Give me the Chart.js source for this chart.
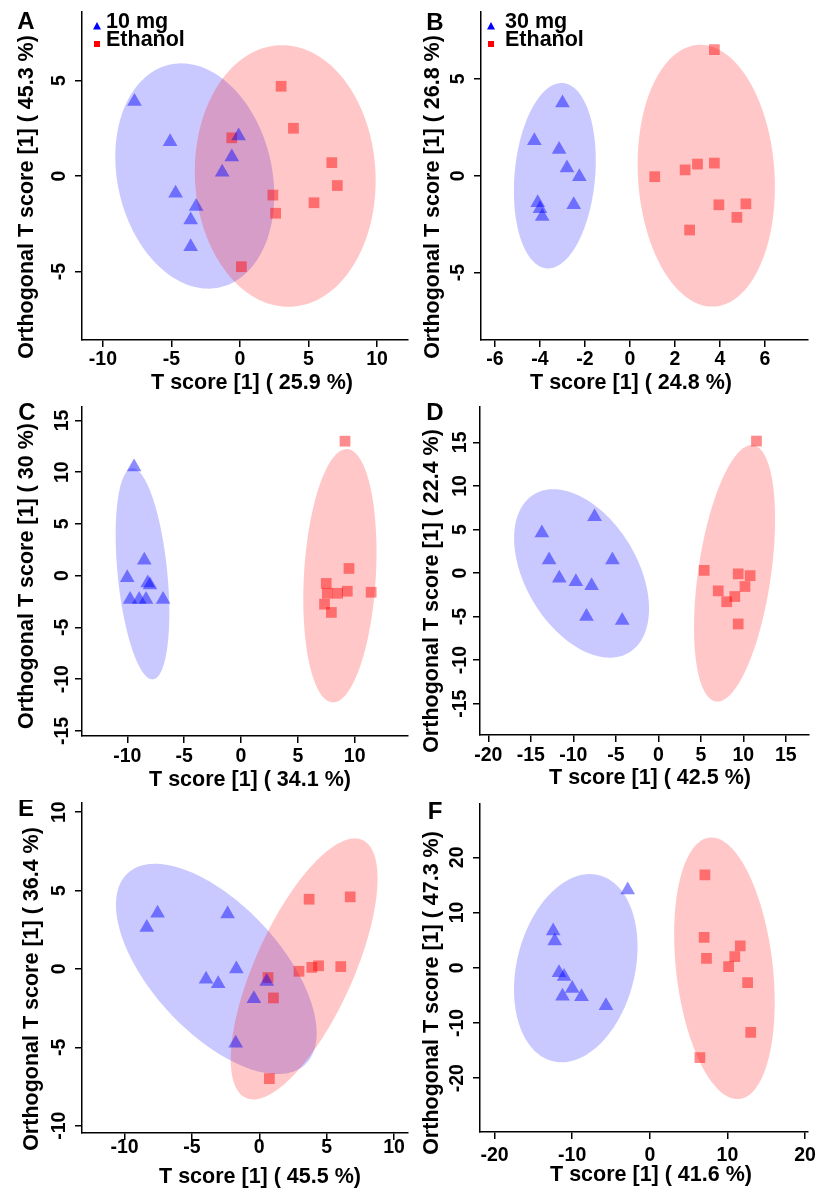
<!DOCTYPE html>
<html>
<head>
<meta charset="utf-8">
<title>OPLS-DA score plots</title>
<script src="https://cdn.jsdelivr.net/npm/chart.js@4.4.1/dist/chart.umd.min.js"></script>
<style>
  html, body { margin: 0; padding: 0; background: #fff; }
  #figure { position: relative; width: 821px; height: 1191px; overflow: hidden; }
  #figure canvas { position: absolute; }
</style>
</head>
<body>
<div id="figure">
  <canvas id="chartA" width="410" height="400" style="left:0px;top:0px"></canvas>
  <canvas id="chartB" width="411" height="400" style="left:410px;top:0px"></canvas>
  <canvas id="chartC" width="410" height="400" style="left:0px;top:400px"></canvas>
  <canvas id="chartD" width="411" height="400" style="left:410px;top:400px"></canvas>
  <canvas id="chartE" width="410" height="391" style="left:0px;top:800px"></canvas>
  <canvas id="chartF" width="411" height="391" style="left:410px;top:800px"></canvas>
</div>
<script>
// ---- data ----
// ellipse = [centre x, centre y, half width x, half height y, tilt phase in degrees]

// A: 10 mg vs ethanol
const aDoseX = [-7.7, -5.1, -4.7, -3.2, -3.6, -3.6, -1.3, -0.6, -0.1];
const aDoseY = [3.9, 1.8, -0.9, -1.6, -2.3, -3.7, 0.2, 1.0, 2.1];
const aEthX = [3.0, 3.9, -0.6, 6.7, 7.1, 5.4, 2.4, 2.6, 0.1];
const aEthY = [4.7, 2.5, 2.0, 0.7, -0.5, -1.4, -1.0, -1.95, -4.75];
const aDoseEllipse = [-3.3, 0, 5.8, 5.9, 99.8];
const aEthEllipse = [3.3, 0, 6.6, 6.85, 92];
const aXTicks = [-10, -5, 0, 5, 10];
const aYTicks = [-5, 0, 5];

// B: 30 mg vs ethanol
const bDoseX = [-3.0, -4.25, -3.15, -2.8, -2.25, -2.5, -4.1, -4.0, -3.9];
const bDoseY = [3.75, 1.8, 1.35, 0.4, -0.05, -1.5, -1.4, -1.7, -2.1];
const bEthX = [3.75, 1.1, 2.45, 3.0, 3.75, 3.95, 5.15, 4.75, 2.65];
const bEthY = [6.5, -0.05, 0.3, 0.6, 0.65, -1.5, -1.45, -2.15, -2.8];
const bDoseEllipse = [-3.34, 0, 1.82, 4.78, 80.5];
const bEthEllipse = [3.39, 0, 3.05, 6.75, 95];
const bXTicks = [-6, -4, -2, 0, 2, 4, 6];
const bYTicks = [-5, 0, 5];

// C
const cDoseX = [-9.4, -8.5, -10.0, -8.2, -8.0, -9.75, -8.95, -8.35, -6.85];
const cDoseY = [10.5, 1.5, -0.2, -0.7, -0.9, -2.3, -2.3, -2.3, -2.3];
const cEthX = [9.15, 9.5, 7.5, 7.6, 8.5, 9.35, 11.45, 7.35, 7.95];
const cEthY = [13.0, 0.7, -0.75, -1.7, -1.7, -1.5, -1.6, -2.75, -3.55];
const cDoseEllipse = [-8.66, 0.18, 2.36, 10.2, 111.7];
const cEthEllipse = [8.7, 0, 3.22, 12.24, 79.3];
const cXTicks = [-10, -5, 0, 5, 10];
const cYTicks = [-15, -10, -5, 0, 5, 10, 15];

// D
const dDoseX = [-13.7, -7.5, -12.85, -5.4, -11.65, -9.7, -7.85, -8.45, -4.25];
const dDoseY = [4.6, 6.45, 1.5, 1.5, -0.6, -1.0, -1.45, -5.0, -5.45];
const dEthX = [11.55, 5.4, 9.4, 10.8, 7.05, 10.2, 8.05, 9.0, 9.4];
const dEthY = [15.15, 0.3, -0.1, -0.3, -2.05, -1.55, -3.3, -2.7, -5.85];
const dDoseEllipse = [-9.03, -0.05, 7.94, 9.67, 114.7];
const dEthEllipse = [8.97, -0.04, 4.77, 14.73, 65];
const dXTicks = [-20, -15, -10, -5, 0, 5, 10, 15];
const dYTicks = [-15, -10, -5, 0, 5, 10, 15];

// E
const eDoseX = [-7.55, -8.35, -2.35, -1.7, -3.95, -3.05, -0.4, 0.55, -1.75];
const eDoseY = [3.55, 2.65, 3.5, 0, -0.65, -0.95, -1.9, -0.8, -4.75];
const eEthX = [3.7, 6.75, 2.95, 3.9, 4.4, 6.05, 0.65, 1.05, 0.75];
const eEthY = [4.45, 4.6, -0.15, 0.1, 0.2, 0.15, -0.55, -1.85, -7.0];
const eDoseEllipse = [-3.19, 0, 7.45, 6.71, 127.6];
const eEthEllipse = [3.33, 0, 5.45, 8.33, 46.3];
const eXTicks = [-10, -5, 0, 5, 10];
const eYTicks = [-10, -5, 0, 5, 10];

// F
const fDoseX = [-2.85, -12.45, -12.25, -11.7, -11.05, -10.0, -11.25, -8.8, -5.65];
const fDoseY = [14.1, 6.65, 4.85, -0.9, -1.6, -3.75, -5.15, -5.25, -6.9];
const fEthX = [7.1, 7.0, 7.3, 11.65, 10.95, 10.15, 12.6, 13.0, 6.45];
const fEthY = [16.8, 5.5, 1.7, 3.95, 2.0, 0.2, -2.7, -11.7, -16.3];
const fDoseEllipse = [-9.54, -0.08, 7.96, 17.05, 76.8];
const fEthEllipse = [9.61, -0.1, 6.48, 23.7, 105];
const fXTicks = [-20, -10, 0, 10, 20];
const fYTicks = [-20, -10, 0, 10, 20];

const xTitles = ['T score [1] ( 25.9 %)', 'T score [1] ( 24.8 %)', 'T score [1] ( 34.1 %)',
                 'T score [1] ( 42.5 %)', 'T score [1] ( 45.5 %)', 'T score [1] ( 41.6 %)'];
const yTitles = ['Orthogonal T score [1] ( 45.3 %)', 'Orthogonal T score [1] ( 26.8 %)',
                 'Orthogonal T score [1] ( 30 %)', 'Orthogonal T score [1] ( 22.4 %)',
                 'Orthogonal T score [1] ( 36.4 %)', 'Orthogonal T score [1] ( 47.3 %)'];
const xRanges = [[-11.53, 12.26], [-6.62, 7.91], [-13.98, 14.69], [-20.98, 17.73], [-13.16, 11.04], [-21.88, 20.33]];
const yRanges = [[-8.59, 8.59], [-8.47, 8.44], [-15.49, 16.3], [-18.6, 19.06], [-10.47, 10.59], [-29.76, 29.66]];
const doseLabels = ['10 mg', '30 mg', null, null, null, null];
const ethanolLabel = 'Ethanol';

// ---- look ----
const FONT = '"Liberation Sans", Arial, sans-serif';
const DOSE_POINT = 'rgba(0, 0, 255, 0.45)';
const ETH_POINT = 'rgba(255, 0, 0, 0.45)';
const DOSE_FILL = 'rgba(0, 0, 255, 0.21)';
const ETH_FILL = 'rgba(255, 0, 0, 0.22)';
const TICK_SIZE = 19.5;
const TITLE_SIZE = 21.5;

// per panel placement inside its canvas (plot area = [left, top, right, bottom])
const panels = [
    { id: 'chartA', letter: 'A', w: 410, h: 400, area: [82, 12, 408, 340], xTickPad: 1.3, yLabelGap: 22,
      xTitlePos: [252, 383], yTitlePos: [27, 197], letterPos: [26, 22], legend: { marker: 97, text: 106 },
      doseX: aDoseX, doseY: aDoseY, ethX: aEthX, ethY: aEthY, ellipses: [aDoseEllipse, aEthEllipse], xTicks: aXTicks, yTicks: aYTicks },
    { id: 'chartB', letter: 'B', w: 411, h: 400, area: [71, 12, 398, 340], xTickPad: 1.3, yLabelGap: 22.5,
      xTitlePos: [221, 383], yTitlePos: [23, 197], letterPos: [25, 23.5], legend: { marker: 81, text: 95 },
      doseX: bDoseX, doseY: bDoseY, ethX: bEthX, ethY: bEthY, ellipses: [bDoseEllipse, bEthEllipse], xTicks: bXTicks, yTicks: bYTicks },
    { id: 'chartC', letter: 'C', w: 410, h: 400, area: [82, 7, 408, 336], xTickPad: 2, yLabelGap: 19,
      xTitlePos: [250, 380], yTitlePos: [27, 176], letterPos: [27, 13.5], legend: null,
      doseX: cDoseX, doseY: cDoseY, ethX: cEthX, ethY: cEthY, ellipses: [cDoseEllipse, cEthEllipse], xTicks: cXTicks, yTicks: cYTicks },
    { id: 'chartD', letter: 'D', w: 411, h: 400, area: [70, 7, 399, 335], xTickPad: 2.3, yLabelGap: 19,
      xTitlePos: [240, 378], yTitlePos: [22, 191], letterPos: [25, 13.5], legend: null,
      doseX: dDoseX, doseY: dDoseY, ethX: dEthX, ethY: dEthY, ellipses: [dDoseEllipse, dEthEllipse], xTicks: dXTicks, yTicks: dYTicks },
    { id: 'chartE', letter: 'E', w: 410, h: 391, area: [82, 3, 408, 333], xTickPad: -4.5, yLabelGap: 22,
      xTitlePos: [260, 377], yTitlePos: [32, 189], letterPos: [26, 9], legend: null,
      doseX: eDoseX, doseY: eDoseY, ethX: eEthX, ethY: eEthY, ellipses: [eDoseEllipse, eEthEllipse], xTicks: eXTicks, yTicks: eYTicks },
    { id: 'chartF', letter: 'F', w: 411, h: 391, area: [70, 4, 398, 332], xTickPad: 5, yLabelGap: 22.5,
      xTitlePos: [241, 375], yTitlePos: [22, 193], letterPos: [25, 12.5], legend: null,
      doseX: fDoseX, doseY: fDoseY, ethX: fEthX, ethY: fEthY, ellipses: [fDoseEllipse, fEthEllipse], xTicks: fXTicks, yTicks: fYTicks }
];

function toPoints(xs, ys) {
    return xs.map((x, i) => ({ x: x, y: ys[i] }));
}

// ellipses, rotated y tick labels, titles, panel letter and the small legend
function decorPlugin(p, idx) {
    return {
        id: 'decor' + p.letter,
        beforeDatasetsDraw(chart) {
            const { ctx } = chart;
            const xs = chart.scales.x;
            const ys = chart.scales.y;
            p.ellipses.forEach((e, i) => {
                const [cx, cy, rx, ry, tilt] = e;
                const d = tilt * Math.PI / 180;
                ctx.save();
                ctx.beginPath();
                for (let k = 0; k <= 180; k++) {
                    const t = k / 180 * 2 * Math.PI;
                    const px = xs.getPixelForValue(cx + rx * Math.cos(t));
                    const py = ys.getPixelForValue(cy + ry * Math.cos(t - d));
                    if (k === 0) ctx.moveTo(px, py); else ctx.lineTo(px, py);
                }
                ctx.closePath();
                ctx.fillStyle = i === 0 ? DOSE_FILL : ETH_FILL;
                ctx.fill();
                ctx.restore();
            });
        },
        afterDraw(chart) {
            const { ctx, chartArea } = chart;
            const ys = chart.scales.y;
            ctx.save();
            ctx.fillStyle = '#000';
            ctx.textAlign = 'center';
            ctx.textBaseline = 'middle';

            ctx.font = `bold ${TICK_SIZE}px ${FONT}`;
            ys.ticks.forEach(t => {
                ctx.save();
                ctx.translate(chartArea.left - p.yLabelGap, ys.getPixelForValue(t.value));
                ctx.rotate(-Math.PI / 2);
                ctx.fillText(String(t.value), 0, 0);
                ctx.restore();
            });

            ctx.font = `bold ${TITLE_SIZE}px ${FONT}`;
            ctx.fillText(xTitles[idx], p.xTitlePos[0], p.xTitlePos[1]);
            ctx.save();
            ctx.translate(p.yTitlePos[0], p.yTitlePos[1]);
            ctx.rotate(-Math.PI / 2);
            ctx.fillText(yTitles[idx], 0, 0);
            ctx.restore();

            ctx.font = `bold 24px ${FONT}`;
            ctx.fillText(p.letter, p.letterPos[0], p.letterPos[1]);

            if (p.legend && doseLabels[idx]) {
                const mx = p.legend.marker;
                ctx.fillStyle = '#0000ff';
                ctx.beginPath();
                ctx.moveTo(mx, 22);
                ctx.lineTo(mx + 4, 29.5);
                ctx.lineTo(mx - 4, 29.5);
                ctx.closePath();
                ctx.fill();
                ctx.fillStyle = '#ff0000';
                ctx.fillRect(mx - 3, 41, 6, 6);

                ctx.fillStyle = '#000';
                ctx.textAlign = 'left';
                ctx.font = `bold ${TITLE_SIZE}px ${FONT}`;
                ctx.fillText(doseLabels[idx], p.legend.text, 22);
                ctx.fillText(ethanolLabel, p.legend.text, 40.5);
            }
            ctx.restore();
        }
    };
}

function axisOptions(p, axis, range, ticks) {
    const opts = {
        type: 'linear',
        min: range[0],
        max: range[1],
        afterBuildTicks: (scale) => {
            scale.ticks = ticks.map(v => ({ value: v }));
        },
        border: { display: true, color: '#000', width: 1.5 },
        grid: {
            display: true,
            drawOnChartArea: false,
            drawTicks: true,
            tickLength: 7,
            color: '#000',
            lineWidth: 1.5
        },
        title: { display: false }
    };
    if (axis === 'x') {
        opts.position = 'bottom';
        opts.afterFit = (scale) => { scale.height = p.h - p.area[3]; };
        opts.ticks = {
            color: '#000',
            font: { family: FONT, size: TICK_SIZE, weight: 'bold', lineHeight: 1.2 },
            padding: p.xTickPad,
            maxRotation: 0,
            minRotation: 0,
            autoSkip: false
        };
    } else {
        opts.position = 'left';
        opts.afterFit = (scale) => { scale.width = p.area[0]; };
        opts.ticks = { display: false };
    }
    return opts;
}

panels.forEach((p, idx) => {
    const ctx = document.getElementById(p.id).getContext('2d');
    new Chart(ctx, {
        type: 'scatter',
        data: {
            datasets: [
                {
                    label: doseLabels[idx] || 'Dose',
                    data: toPoints(p.doseX, p.doseY),
                    pointStyle: 'triangle',
                    pointRadius: 8.5,
                    backgroundColor: DOSE_POINT,
                    borderWidth: 0
                },
                {
                    label: ethanolLabel,
                    data: toPoints(p.ethX, p.ethY),
                    pointStyle: 'rect',
                    pointRadius: 7.6,
                    backgroundColor: ETH_POINT,
                    borderWidth: 0
                }
            ]
        },
        options: {
            responsive: false,
            animation: false,
            events: [],
            layout: {
                autoPadding: false,
                padding: { left: 0, top: p.area[1], right: p.w - p.area[2], bottom: 0 }
            },
            plugins: {
                legend: { display: false },
                tooltip: { enabled: false }
            },
            scales: {
                x: axisOptions(p, 'x', xRanges[idx], p.xTicks),
                y: axisOptions(p, 'y', yRanges[idx], p.yTicks)
            }
        },
        plugins: [decorPlugin(p, idx)]
    });
});
</script>
</body>
</html>
